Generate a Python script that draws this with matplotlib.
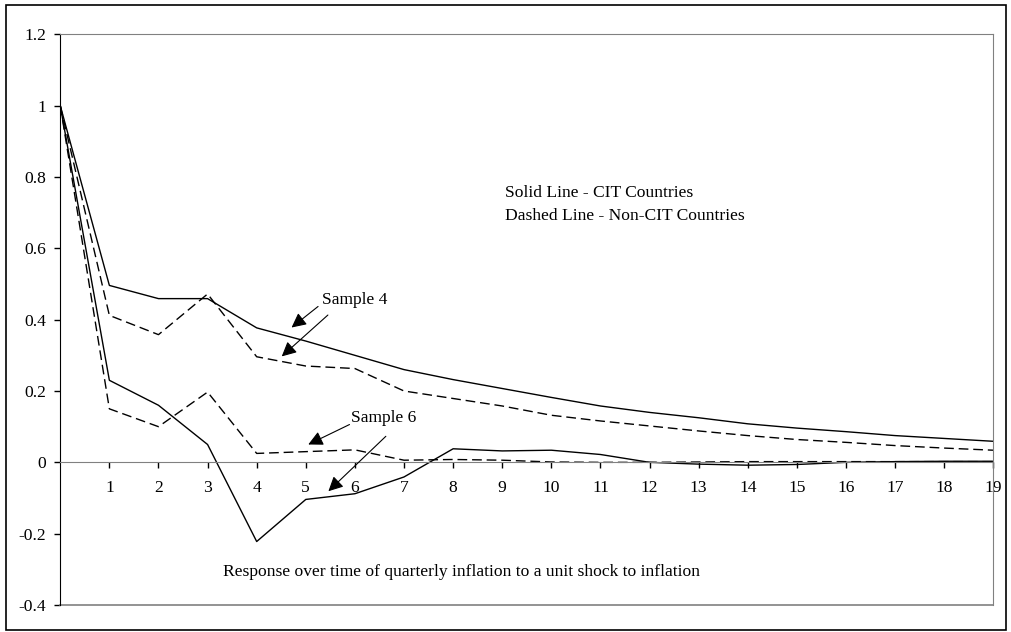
import matplotlib.pyplot as plt
from matplotlib.patches import Rectangle

# horizon (quarters) and impulse responses
t = list(range(20))
s4_cit = [1, 0.496, 0.459, 0.459, 0.377, 0.34, 0.30, 0.26, 0.232, 0.207,
          0.182, 0.158, 0.14, 0.125, 0.108, 0.096, 0.086, 0.075, 0.067, 0.059]
s4_non = [1, 0.412, 0.358, 0.472, 0.296, 0.27, 0.263, 0.20, 0.179, 0.158,
          0.132, 0.116, 0.102, 0.088, 0.075, 0.064, 0.056, 0.047, 0.04, 0.034]
s6_cit = [1, 0.23, 0.16, 0.05, -0.222, -0.104, -0.088, -0.041, 0.038, 0.032,
          0.034, 0.022, 0.0, -0.005, -0.008, -0.006, 0.0, 0.002, 0.003, 0.003]
s6_non = [1, 0.15, 0.10, 0.197, 0.025, 0.03, 0.035, 0.006, 0.008, 0.006,
          0.001, 0.0, 0.0, 0.001, 0.002, 0.002, 0.002, 0.002, 0.002, 0.002]
y_ticks = [-0.4, -0.2, 0, 0.2, 0.4, 0.6, 0.8, 1, 1.2]
y_labels = ['-0.4', '-0.2', '0', '0.2', '0.4', '0.6', '0.8', '1', '1.2']

plt.rcParams['font.family'] = 'Liberation Serif'
fs = 12.6
grey = '#808080'

fig = plt.figure(figsize=(10.11, 6.32), dpi=100)
ax = fig.add_axes([0.0596, 0.0427, 0.9229, 0.903])

dash = (0, (7, 3.5))
ax.plot(t, s4_cit, color='black', lw=1.0)
ax.plot(t, s4_non, color='black', lw=1.0, linestyle=dash)
ax.plot(t, s6_cit, color='black', lw=1.0)
ax.plot(t, s6_non, color='black', lw=1.0, linestyle=dash)

# x axis sits on zero, plot frame in grey
ax.spines['bottom'].set_position(('data', 0))
ax.spines['bottom'].set_color(grey)
ax.spines['top'].set_color(grey)
ax.spines['right'].set_color(grey)
ax.spines['left'].set_color('black')
ax.plot([0, 1], [0, 0], transform=ax.transAxes, color=grey, lw=1.2, clip_on=False)

ax.set_xlim(0, 19)
ax.set_ylim(-0.4, 1.2)
ax.set_yticks(y_ticks)
ax.set_yticklabels(y_labels)
ax.set_xticks(t[1:])
ax.set_xticklabels([str(i) for i in t[1:]])
ax.tick_params(axis='x', direction='out', length=4, width=1, color='black',
               pad=9, labelsize=fs)
ax.tick_params(axis='y', direction='out', length=4, width=1, color='black',
               pad=6, labelsize=fs)

# labels and arrows
arrow = dict(arrowstyle='-|>', color='black', lw=0.8, mutation_scale=22,
             shrinkA=0, shrinkB=0)
ax.text(5.32, 0.454, 'Sample 4', fontsize=fs, va='center', ha='left')
ax.annotate('', xy=(4.71, 0.378), xytext=(5.25, 0.437), arrowprops=arrow)
ax.annotate('', xy=(4.51, 0.297), xytext=(5.45, 0.413), arrowprops=arrow)
ax.text(5.93, 0.124, 'Sample 6', fontsize=fs, va='center', ha='left')
ax.annotate('', xy=(5.05, 0.050), xytext=(5.89, 0.106), arrowprops=arrow)
ax.annotate('', xy=(5.46, -0.081), xytext=(6.63, 0.073), arrowprops=arrow)

ax.text(9.06, 0.756, 'Solid Line - CIT Countries', fontsize=fs, va='center')
ax.text(9.06, 0.692, 'Dashed Line - Non-CIT Countries', fontsize=fs, va='center')
ax.text(3.31, -0.308, 'Response over time of quarterly inflation to a unit shock to inflation',
        fontsize=fs, va='center')

# outer border of the chart
fig.add_artist(Rectangle((6 / 1011, 2 / 632), 1000 / 1011, 625 / 632,
                         transform=fig.transFigure, fill=False,
                         edgecolor='black', lw=1.2))

fig.savefig('out.png', dpi=100)
